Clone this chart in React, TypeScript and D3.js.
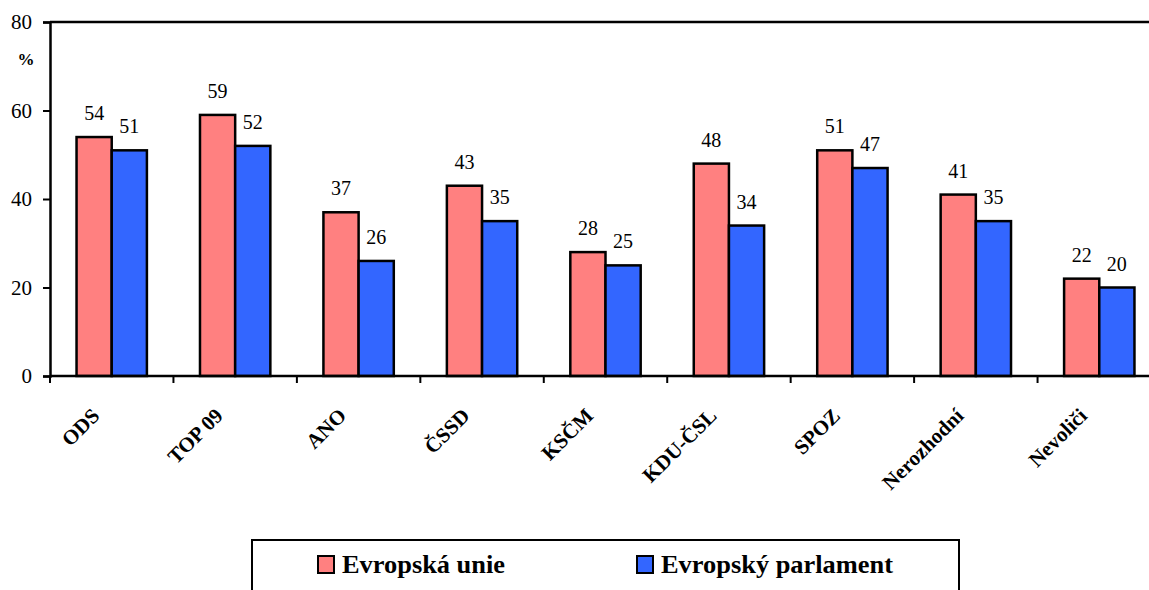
import React, { useEffect, useRef } from 'react';
import * as d3 from 'd3';

const categories = ['ODS', 'TOP 09', 'ANO', 'ČSSD', 'KSČM', 'KDU-ČSL', 'SPOZ', 'Nerozhodní', 'Nevoliči'];
const evropskaUnie = [54, 59, 37, 43, 28, 48, 51, 41, 22];
const evropskyParlament = [51, 52, 26, 35, 25, 34, 47, 35, 20];
const seriesNames = ['Evropská unie', 'Evropský parlament'];
const seriesColors = ['#FF8080', '#3366FF'];
const yTicks = [0, 20, 40, 60, 80];

export default function App() {
  const ref = useRef<SVGSVGElement>(null);

  useEffect(() => {
    const svg = d3.select(ref.current);
    svg.selectAll('*').remove();

    const left = 50, top = 22, bottom = 376, right = 1161;
    const font = '"Liberation Serif", "Times New Roman", serif';

    const x = d3.scaleBand<string>().domain(categories).range([left, right]);
    const y = d3.scaleLinear().domain([0, 80]).range([bottom, top]);
    const bw = x.bandwidth() * 0.285;

    const data = [evropskaUnie, evropskyParlament];

    // bars
    data.forEach((vals, s) => {
      svg.append('g')
        .selectAll('rect')
        .data(vals)
        .enter()
        .append('rect')
        .attr('x', (d, i) => x(categories[i])! + x.bandwidth() / 2 - bw + s * bw)
        .attr('y', d => y(d))
        .attr('width', bw)
        .attr('height', d => y(0) - y(d))
        .attr('fill', seriesColors[s])
        .attr('stroke', '#000')
        .attr('stroke-width', 2.5);

      svg.append('g')
        .selectAll('text')
        .data(vals)
        .enter()
        .append('text')
        .attr('x', (d, i) => x(categories[i])! + x.bandwidth() / 2 - bw / 2 + s * bw)
        .attr('y', d => y(d) - 17)
        .attr('text-anchor', 'middle')
        .attr('font-family', font)
        .attr('font-size', 20)
        .text(d => d);
    });

    // top line
    svg.append('line')
      .attr('x1', left).attr('x2', right)
      .attr('y1', top).attr('y2', top)
      .attr('stroke', '#000').attr('stroke-width', 2.5);

    // y axis
    const ya = svg.append('g')
      .attr('transform', `translate(${left},0)`)
      .call(d3.axisLeft(y).tickValues(yTicks).tickSize(7).tickPadding(11));
    ya.select('.domain').attr('stroke-width', 2.5);
    ya.selectAll('.tick line').attr('stroke-width', 2);
    ya.selectAll('.tick text')
      .attr('font-family', font)
      .attr('font-size', 21)
      .attr('fill', '#000');

    svg.append('text')
      .attr('x', 26).attr('y', 65)
      .attr('text-anchor', 'middle')
      .attr('font-family', font)
      .attr('font-weight', 'bold')
      .attr('font-size', 17)
      .text('%');

    // x axis
    svg.append('line')
      .attr('x1', left).attr('x2', right)
      .attr('y1', bottom).attr('y2', bottom)
      .attr('stroke', '#000').attr('stroke-width', 2.5);

    svg.append('g')
      .selectAll('line')
      .data(categories)
      .enter()
      .append('line')
      .attr('x1', d => x(d)!).attr('x2', d => x(d)!)
      .attr('y1', bottom).attr('y2', bottom + 7)
      .attr('stroke', '#000').attr('stroke-width', 2);

    svg.append('g')
      .selectAll('text')
      .data(categories)
      .enter()
      .append('text')
      .attr('transform', d => `translate(${x(d)! + x.bandwidth() / 2 - 11},${bottom + 41}) rotate(-45)`)
      .attr('text-anchor', 'end')
      .attr('font-family', font)
      .attr('font-weight', 'bold')
      .attr('font-size', 21)
      .text(d => d);

    // legend
    const lg = svg.append('g');
    lg.append('rect')
      .attr('x', 252).attr('y', 540)
      .attr('width', 707).attr('height', 60)
      .attr('fill', '#fff')
      .attr('stroke', '#000').attr('stroke-width', 2);

    const legendX = [318, 637];
    const legendW = [163, 232];
    seriesNames.forEach((name, i) => {
      lg.append('rect')
        .attr('x', legendX[i]).attr('y', 556)
        .attr('width', 16).attr('height', 17)
        .attr('fill', seriesColors[i])
        .attr('stroke', '#000').attr('stroke-width', 2);
      lg.append('text')
        .attr('x', legendX[i] + 24).attr('y', 573)
        .attr('font-family', font)
        .attr('font-weight', 'bold')
        .attr('font-size', 25)
        .attr('textLength', legendW[i])
        .attr('lengthAdjust', 'spacingAndGlyphs')
        .text(name);
    });
  }, []);

  return (
    <div style={{ position: 'absolute', left: 0, top: 0 }}>
      <svg ref={ref} width={1149} height={590} style={{ display: 'block', background: '#fff' }} />
    </div>
  );
}
